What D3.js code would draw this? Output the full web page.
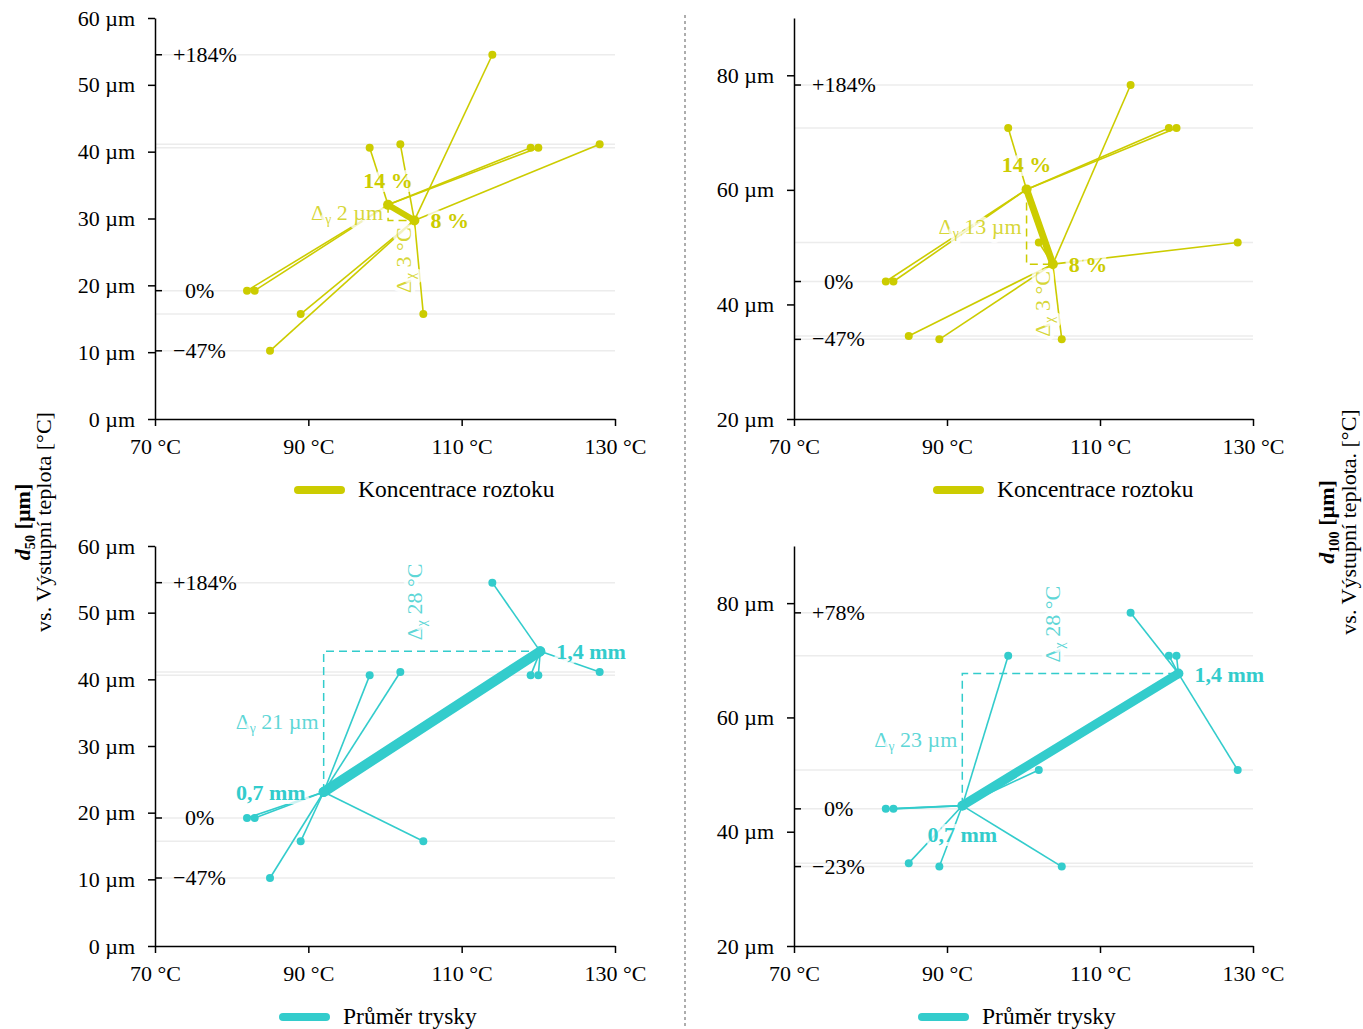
<!DOCTYPE html>
<html>
<head>
<meta charset="utf-8">
<script src="https://cdn.jsdelivr.net/npm/d3@7"></script>
<style>
  body { margin: 0; background: #fff; }
  svg { display: block; font-family: "Liberation Serif", "Times New Roman", serif; }
</style>
</head>
<body>
<svg id="chart" width="1363" height="1029"></svg>
<script>
// Outlet temperature of each spray-drying run [°C]
const temperatures = [82, 83, 85, 89, 98, 102, 105, 114, 119, 120, 128];
// Particle size of each run [µm]
const d50  = [19.2, 19.2, 10.2, 15.7, 40.6, 41.1, 15.7, 54.5, 40.6, 40.6, 41.1];
const d100 = [44.0, 44.0, 34.5, 33.9, 70.8, 50.8, 33.9, 78.3, 70.8, 70.8, 50.8];
// Factor level of each run
const concentration = ["14 %", "14 %", "8 %", "8 %", "14 %", "8 %", "8 %", "8 %", "14 %", "14 %", "8 %"];
const nozzle = ["0,7 mm", "0,7 mm", "0,7 mm", "0,7 mm", "0,7 mm", "0,7 mm", "0,7 mm", "1,4 mm", "1,4 mm", "1,4 mm", "1,4 mm"];
const concentrationLevels = ["14 %", "8 %"];
const nozzleLevels = ["0,7 mm", "1,4 mm"];
const legendNames = ["Koncentrace roztoku", "Průměr trysky"];

// Axis ticks
const xTicks = [70, 90, 110, 130];
const d50Ticks = [0, 10, 20, 30, 40, 50, 60];
const d100Ticks = [20, 40, 60, 80];
// Relative change labels (max, reference run, min)
const pctD50 = ["+184%", "0%", "\u221247%"];
const pctD100Conc = ["+184%", "0%", "\u221247%"];
const pctD100Nozzle = ["+78%", "0%", "\u221223%"];

const YG = "#cccc00";
const TEAL = "#33cccc";
const FONT = 22;
const LEGEND_FONT = 23.5;

const panels = [
  { left: 155, right: 615, top: 18, bottom: 419, yDomain: [0, 60], yTicks: d50Ticks, values: d50,
    factor: concentration, levels: concentrationLevels, color: YG, pct: pctD50, thick: 6,
    labelPos: ["above", "right"], legend: legendNames[0], legendX: 298 },
  { left: 794, right: 1253, top: 18, bottom: 419, yDomain: [20, 90], yTicks: d100Ticks, values: d100,
    factor: concentration, levels: concentrationLevels, color: YG, pct: pctD100Conc, thick: 7,
    labelPos: ["above", "right"], legend: legendNames[0], legendX: 937 },
  { left: 155, right: 615, top: 546, bottom: 946, yDomain: [0, 60], yTicks: d50Ticks, values: d50,
    factor: nozzle, levels: nozzleLevels, color: TEAL, pct: pctD50, thick: 10,
    labelPos: ["left", "right"], legend: legendNames[1], legendX: 283 },
  { left: 794, right: 1253, top: 546, bottom: 946, yDomain: [20, 90], yTicks: d100Ticks, values: d100,
    factor: nozzle, levels: nozzleLevels, color: TEAL, pct: pctD100Nozzle, thick: 9,
    labelPos: ["below", "right"], legend: legendNames[1], legendX: 922 }
];

const svg = d3.select("#chart");

function halo(sel) {
  return sel.attr("paint-order", "stroke").attr("stroke", "#fff")
    .attr("stroke-width", 8).attr("stroke-linejoin", "round").attr("stroke-opacity", 0.75);
}

// Delta label: "Δ" with a Greek subscript followed by the rounded difference
function deltaText(sel, sub, value, unit) {
  sel.append("tspan").text("\u0394");
  sel.append("tspan").attr("font-size", FONT * 0.62).attr("dy", 4).text(sub);
  sel.append("tspan").attr("dy", -4).text(" " + Math.round(value) + " " + unit);
}

panels.forEach(p => {
  const g = svg.append("g");
  const x = d3.scaleLinear().domain([70, 130]).range([p.left, p.right]);
  const y = d3.scaleLinear().domain(p.yDomain).range([p.bottom, p.top]);

  const runs = temperatures.map((t, i) => ({ t, v: p.values[i], level: p.factor[i] }));

  // horizontal guides at every measured level
  const levelsY = Array.from(new Set(p.values));
  g.append("g").selectAll("line").data(levelsY).join("line")
    .attr("x1", p.left).attr("x2", p.right)
    .attr("y1", d => y(d)).attr("y2", d => y(d))
    .attr("stroke", "#ececec").attr("stroke-width", 1.5);

  // group centres (mean temperature, mean size)
  const centres = p.levels.map(l => {
    const r = runs.filter(d => d.level === l);
    return { level: l, t: d3.mean(r, d => d.t), v: d3.mean(r, d => d.v) };
  });
  const byLevel = Object.fromEntries(centres.map(c => [c.level, c]));

  // each run linked to its group centre
  g.append("g").selectAll("line").data(runs).join("line")
    .attr("x1", d => x(d.t)).attr("y1", d => y(d.v))
    .attr("x2", d => x(byLevel[d.level].t)).attr("y2", d => y(byLevel[d.level].v))
    .attr("stroke", p.color).attr("stroke-width", 1.6);

  // difference bracket between the two centres
  const A = centres[0], B = centres[1];
  const xA = x(A.t), yA = y(A.v), xB = x(B.t), yB = y(B.v);
  g.append("path")
    .attr("d", `M${xA},${yA}V${yB}H${xB}`)
    .attr("fill", "none").attr("stroke", p.color).attr("stroke-width", 1.5)
    .attr("stroke-dasharray", "8,5");

  g.append("g").selectAll("circle").data(runs).join("circle")
    .attr("cx", d => x(d.t)).attr("cy", d => y(d.v)).attr("r", 4)
    .attr("fill", p.color);

  // effect line between centres
  g.append("line")
    .attr("x1", xA).attr("y1", yA).attr("x2", xB).attr("y2", yB)
    .attr("stroke", p.color).attr("stroke-width", p.thick).attr("stroke-linecap", "round");
  g.append("g").selectAll("circle").data(centres).join("circle")
    .attr("cx", d => x(d.t)).attr("cy", d => y(d.v)).attr("r", 5).attr("fill", p.color);

  // Δγ label
  const dy = g.append("text")
    .attr("x", xA - 5).attr("y", (yA + yB) / 2 + 7)
    .attr("text-anchor", "end").attr("font-size", FONT)
    .attr("fill", p.color).attr("fill-opacity", 0.8);
  halo(dy);
  deltaText(dy, "\u03b3", Math.abs(B.v - A.v), "\u00b5m");

  // Δχ label (vertical), placed on the side of the horizontal leg away from the vertical leg
  const mx = (xA + xB) / 2;
  const below = yA < yB;
  const dx = g.append("text")
    .attr("transform", below ? `translate(${mx + 10},${yB + 7}) rotate(-90)`
                             : `translate(${mx - 10},${yB - 11}) rotate(-90)`)
    .attr("text-anchor", below ? "end" : "start").attr("font-size", FONT)
    .attr("fill", p.color).attr("fill-opacity", 0.8);
  halo(dx);
  deltaText(dx, "\u03c7", Math.abs(B.t - A.t), "\u00b0C");

  // level labels
  const place = {
    above: c => ({ x: x(c.t), y: y(c.v) - 17, a: "middle" }),
    below: c => ({ x: x(c.t), y: y(c.v) + 36, a: "middle" }),
    right: c => ({ x: x(c.t) + 16, y: y(c.v) + 8, a: "start" }),
    left:  c => ({ x: x(c.t) - 18, y: y(c.v) + 8, a: "end" })
  };
  centres.forEach((c, i) => {
    const pos = place[p.labelPos[i]](c);
    halo(g.append("text")
      .attr("x", pos.x).attr("y", pos.y).attr("text-anchor", pos.a)
      .attr("font-size", FONT).attr("font-weight", "bold").attr("fill", p.color)
      .text(c.level));
  });

  // axes
  const xAxis = g.append("g").attr("transform", `translate(0,${p.bottom})`)
    .call(d3.axisBottom(x).tickValues(xTicks).tickSize(7).tickSizeOuter(0).tickPadding(12)
      .tickFormat(d => d + " \u00b0C"));
  const yAxis = g.append("g").attr("transform", `translate(${p.left},0)`)
    .call(d3.axisLeft(y).tickValues(p.yTicks).tickSize(7).tickSizeOuter(0).tickPadding(13)
      .tickFormat(d => d + " \u00b5m"));
  [xAxis, yAxis].forEach(a => {
    a.attr("font-family", null).attr("font-size", FONT);
    a.select(".domain").attr("stroke", "#000").attr("stroke-width", 1.5);
    a.selectAll(".tick line").attr("stroke", "#000").attr("stroke-width", 1.5);
    a.selectAll(".tick text").attr("fill", "#000");
  });

  // relative change markers: maximum, reference run (lowest temperature), minimum
  const refIdx = d3.minIndex(temperatures);
  const pctVals = [d3.max(p.values), p.values[refIdx], d3.min(p.values)];
  const pg = g.append("g");
  pctVals.forEach((v, i) => {
    pg.append("line").attr("x1", p.left).attr("x2", p.left + 7)
      .attr("y1", y(v)).attr("y2", y(v)).attr("stroke", "#000").attr("stroke-width", 1.5);
    const label = p.pct[i];
    const signed = /^[+\u2212-]/.test(label);
    pg.append("text")
      .attr("x", p.left + 18 + (signed ? 0 : 12)).attr("y", y(v) + 7)
      .attr("font-size", FONT).attr("fill", "#000").text(label);
  });

  // legend
  const ly = p.bottom + 71;
  g.append("line").attr("x1", p.legendX).attr("x2", p.legendX + 43)
    .attr("y1", ly).attr("y2", ly)
    .attr("stroke", p.color).attr("stroke-width", 8).attr("stroke-linecap", "round");
  g.append("text").attr("x", p.legendX + 60).attr("y", ly + 7)
    .attr("font-size", LEGEND_FONT).attr("fill", "#000").text(p.legend);
});

// separator between the d50 and d100 columns
svg.append("line").attr("x1", 685).attr("x2", 685).attr("y1", 15).attr("y2", 1029)
  .attr("stroke", "#777").attr("stroke-width", 1.2).attr("stroke-dasharray", "3,3");

// axis titles
function axisTitle(xLine1, xLine2, sub, line2) {
  const t1 = svg.append("text").attr("transform", `translate(${xLine1},522) rotate(-90)`)
    .attr("text-anchor", "middle").attr("font-size", FONT).attr("font-weight", "bold").attr("fill", "#000");
  t1.append("tspan").attr("font-style", "italic").text("d");
  t1.append("tspan").attr("font-size", FONT * 0.65).attr("dy", 5).text(sub);
  t1.append("tspan").attr("dy", -5).text(" [\u00b5m]");
  svg.append("text").attr("transform", `translate(${xLine2},522) rotate(-90)`)
    .attr("text-anchor", "middle").attr("font-size", FONT).attr("fill", "#000").text(line2);
}
axisTitle(30, 51, "50", "vs. V\u00fdstupn\u00ed teplota [\u00b0C]");
axisTitle(1334, 1356, "100", "vs. V\u00fdstupn\u00ed teplota. [\u00b0C]");
</script>
</body>
</html>
